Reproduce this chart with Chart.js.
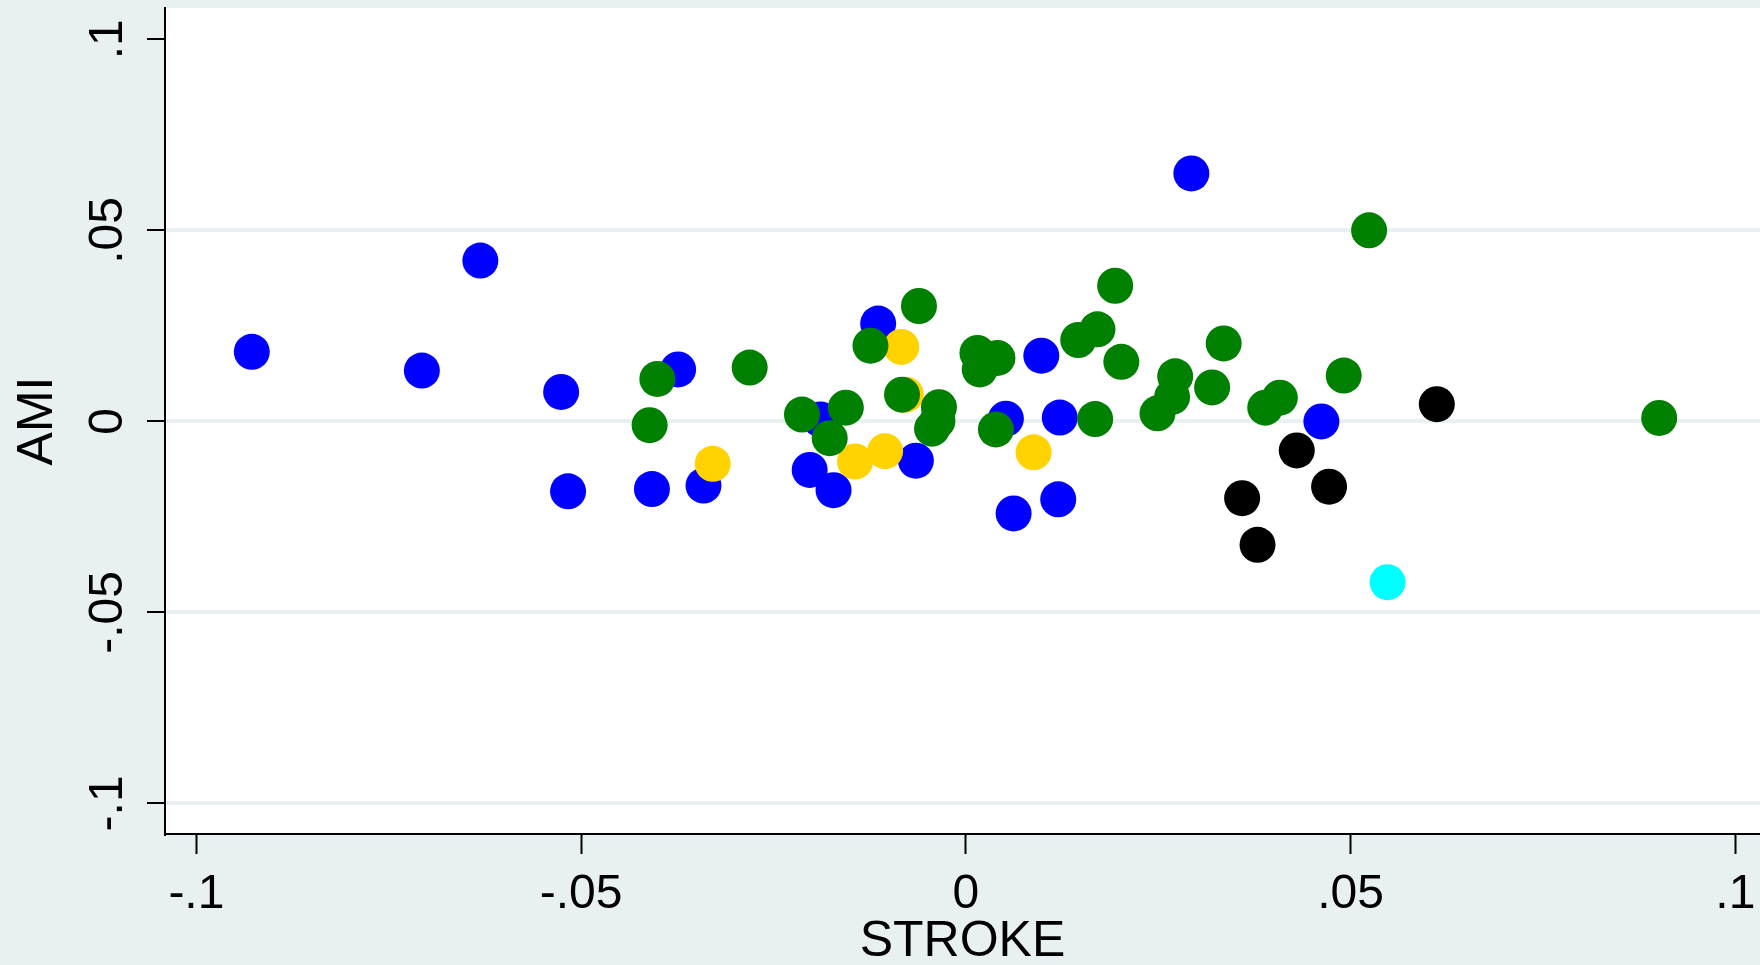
<!DOCTYPE html>
<html>
<head>
<meta charset="utf-8">
<title>AMI vs STROKE</title>
<script src="https://cdn.jsdelivr.net/npm/chart.js@4/dist/chart.umd.min.js"></script>
<style>
  html, body { margin: 0; padding: 0; background: #e8f0f2; }
  canvas { display: block; }
</style>
</head>
<body>
<canvas id="scatter" width="1760" height="965"></canvas>
<script>
'use strict';

// ── Data ──
const greenX = [-0.0411, -0.0401, -0.0281, -0.0213, -0.0156, -0.0177, -0.0124, -0.0061, -0.0083, -0.0035,
                -0.0037, -0.0044, 0.0015, 0.0041, 0.0018, 0.0039, 0.0168, 0.0194, 0.0146, 0.0171,
                0.0202, 0.0272, 0.0268, 0.0249, 0.0335, 0.0320, 0.0389, 0.0408, 0.0491, 0.0524, 0.0901];
const greenY = [-0.0010, 0.0111, 0.0141, 0.0018, 0.0036, -0.0044, 0.0198, 0.0302, 0.0070, 0.0037,
                0.0001, -0.0019, 0.0179, 0.0166, 0.0136, -0.0021, 0.0006, 0.0355, 0.0213, 0.0241,
                0.0156, 0.0118, 0.0064, 0.0021, 0.0204, 0.0089, 0.0036, 0.0062, 0.0120, 0.0500, 0.0009];

const yellowX = [-0.0329, -0.0144, -0.0105, -0.0084, -0.0078, 0.0088];
const yellowY = [-0.0111, -0.0105, -0.0078, 0.0195, 0.0070, -0.0081];

const blueX = [-0.0928, -0.0631, -0.0707, -0.0526, -0.0517, -0.0408, -0.0341, -0.0374, -0.0189, -0.0203,
               -0.0172, -0.0065, -0.0114, 0.0098, 0.0052, 0.0122, 0.0062, 0.0120, 0.0293, 0.0462];
const blueY = [0.0182, 0.0421, 0.0133, 0.0077, -0.0183, -0.0177, -0.0168, 0.0136, 0.0005, -0.0127,
               -0.0180, -0.0103, 0.0256, 0.0172, 0.0007, 0.0010, -0.0241, -0.0204, 0.0649, 0.0000];

const blackX = [0.0359, 0.0379, 0.0430, 0.0472, 0.0612];
const blackY = [-0.0201, -0.0323, -0.0076, -0.0171, 0.0045];

const cyanX = [0.0548];
const cyanY = [-0.0421];

const xTickValues = [-0.1, -0.05, 0, 0.05, 0.1];
const xTickLabels = ['-.1', '-.05', '0', '.05', '.1'];
const yTickValues = [-0.1, -0.05, 0, 0.05, 0.1];
const yTickLabels = ['-.1', '-.05', '0', '.05', '.1'];

const toPoints = (xs, ys) => xs.map((x, i) => ({ x: x, y: ys[i] }));

// ── Look ──
const BG = '#e8f0f2';
const FONT = "'Liberation Sans', Arial, Helvetica, sans-serif";

const COLORS = {
  green:  '#008000',
  yellow: '#ffd200',
  blue:   '#0000ff',
  black:  '#000000',
  cyan:   '#00ffff',
};

// white plot region on the bluish page
const plotBackground = {
  id: 'plotBackground',
  beforeDraw(chart) {
    const { ctx, chartArea: a } = chart;
    ctx.save();
    ctx.fillStyle = '#ffffff';
    ctx.fillRect(a.left, a.top, a.right - a.left, a.bottom - a.top);
    ctx.restore();
  },
};

const series = (label, xs, ys, color) => ({
  label: label,
  data: toPoints(xs, ys),
  backgroundColor: color,
  borderWidth: 0,
  pointRadius: 18,
  pointHoverRadius: 18,
});

new Chart(document.getElementById('scatter'), {
  type: 'scatter',
  // first dataset is painted last (on top)
  data: {
    datasets: [
      series('green', greenX, greenY, COLORS.green),
      series('yellow', yellowX, yellowY, COLORS.yellow),
      series('blue', blueX, blueY, COLORS.blue),
      series('black', blackX, blackY, COLORS.black),
      series('cyan', cyanX, cyanY, COLORS.cyan),
    ],
  },
  options: {
    responsive: false,
    animation: false,
    events: [],
    layout: { autoPadding: false, padding: { top: 8, right: 0, bottom: 0, left: 0 } },
    plugins: { legend: { display: false }, tooltip: { enabled: false } },
    scales: {
      x: {
        type: 'linear',
        min: -0.10408,
        max: 0.1032,
        afterBuildTicks: (s) => { s.ticks = xTickValues.map((v) => ({ value: v })); },
        afterFit: (s) => { s.height = 131; s.paddingLeft = 0; s.paddingRight = 0; },
        border: { display: true, color: '#000', width: 2 },
        grid: { drawOnChartArea: false, drawTicks: true, tickLength: 20, tickColor: '#000', tickWidth: 2 },
        ticks: {
          autoSkip: false, minRotation: 0, maxRotation: 0, padding: 12, color: '#000',
          font: { family: FONT, size: 48 },
          callback: (v, i) => xTickLabels[i],
        },
        title: {
          display: true, text: 'STROKE', color: '#000',
          font: { family: FONT, size: 50, lineHeight: 1 },
          padding: { top: 0, bottom: -2 },
        },
      },
      y: {
        type: 'linear',
        min: -0.108,
        max: 0.1082,
        afterBuildTicks: (s) => { s.ticks = yTickValues.map((v) => ({ value: v })); },
        afterFit: (s) => { s.width = 165; s.paddingTop = 0; s.paddingBottom = 0; },
        border: { display: true, color: '#000', width: 2 },
        grid: {
          color: (c) => (c.index === yTickValues.length - 1 ? 'rgba(0,0,0,0)' : BG),
          lineWidth: 4,
          drawTicks: true, tickLength: 18, tickColor: '#000', tickWidth: 2,
        },
        ticks: {
          autoSkip: false, minRotation: 90, maxRotation: 90, crossAlign: 'center', padding: -3.5, color: '#000',
          font: { family: FONT, size: 48 },
          callback: (v, i) => yTickLabels[i],
        },
        title: {
          display: true, text: 'AMI', color: '#000',
          font: { family: FONT, size: 50, lineHeight: 1 },
          padding: { top: 13, bottom: 0 },
        },
      },
    },
  },
  plugins: [plotBackground],
});
</script>
</body>
</html>
